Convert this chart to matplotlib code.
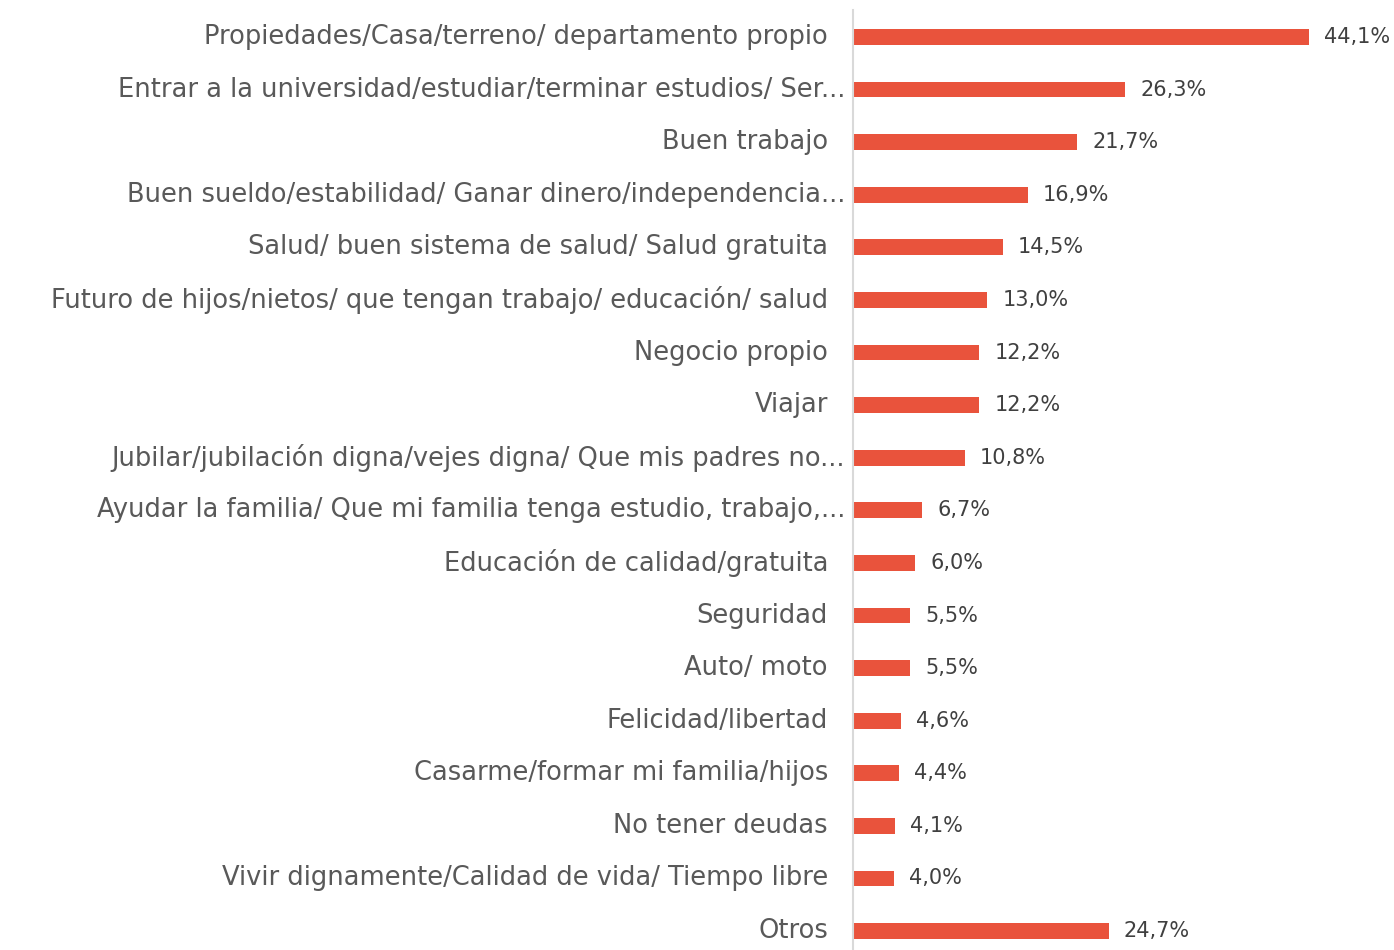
import matplotlib
matplotlib.use('Agg')
import matplotlib.pyplot as plt
from matplotlib.transforms import offset_copy, blended_transform_factory

categorias = [
    'Propiedades/Casa/terreno/ departamento propio',
    'Entrar a la universidad/estudiar/terminar estudios/ Ser...',
    'Buen trabajo',
    'Buen sueldo/estabilidad/ Ganar dinero/independencia...',
    'Salud/ buen sistema de salud/ Salud gratuita',
    'Futuro de hijos/nietos/ que tengan trabajo/ educación/ salud',
    'Negocio propio',
    'Viajar',
    'Jubilar/jubilación digna/vejes digna/ Que mis padres no...',
    'Ayudar la familia/ Que mi familia tenga estudio, trabajo,...',
    'Educación de calidad/gratuita',
    'Seguridad',
    'Auto/ moto',
    'Felicidad/libertad',
    'Casarme/formar mi familia/hijos',
    'No tener deudas',
    'Vivir dignamente/Calidad de vida/ Tiempo libre',
    'Otros',
]
valores = [44.1, 26.3, 21.7, 16.9, 14.5, 13.0, 12.2, 12.2, 10.8, 6.7,
           6.0, 5.5, 5.5, 4.6, 4.4, 4.1, 4.0, 24.7]

rojo = '#E9533C'
gris = '#595959'
font = 'DejaVu Sans'

fig = plt.figure(figsize=(13.94, 9.5), dpi=100)
ax = fig.add_axes([853 / 1394, 0.0, 1 - 853 / 1394, 940 / 950])

y = list(range(len(valores)))
ax.barh(y, valores, height=0.3, color=rojo)
ax.set_xlim(0, 52.3)
ax.set_ylim(17.36, -0.513)

for s in ['top', 'right', 'bottom']:
    ax.spines[s].set_visible(False)
ax.spines['left'].set_color('#D9D9D9')
ax.spines['left'].set_linewidth(1.5)
ax.set_xticks([])
ax.set_yticks([])

trans = blended_transform_factory(ax.transAxes, ax.transData)
for i, (cat, v) in enumerate(zip(categorias, valores)):
    dx = -8 if cat.endswith('...') else -25
    t = offset_copy(trans, fig=fig, x=dx, y=0, units='dots')
    ax.text(0, i, cat, transform=t, ha='right', va='center',
            fontsize=18.5, color=gris, family=font)
    tv = offset_copy(ax.transData, fig=fig, x=15, y=0, units='dots')
    ax.text(v, i, f'{v:.1f}%'.replace('.', ','), transform=tv, ha='left',
            va='center', fontsize=15, color='#404040', family=font)

fig.savefig('out.png', dpi=100)
